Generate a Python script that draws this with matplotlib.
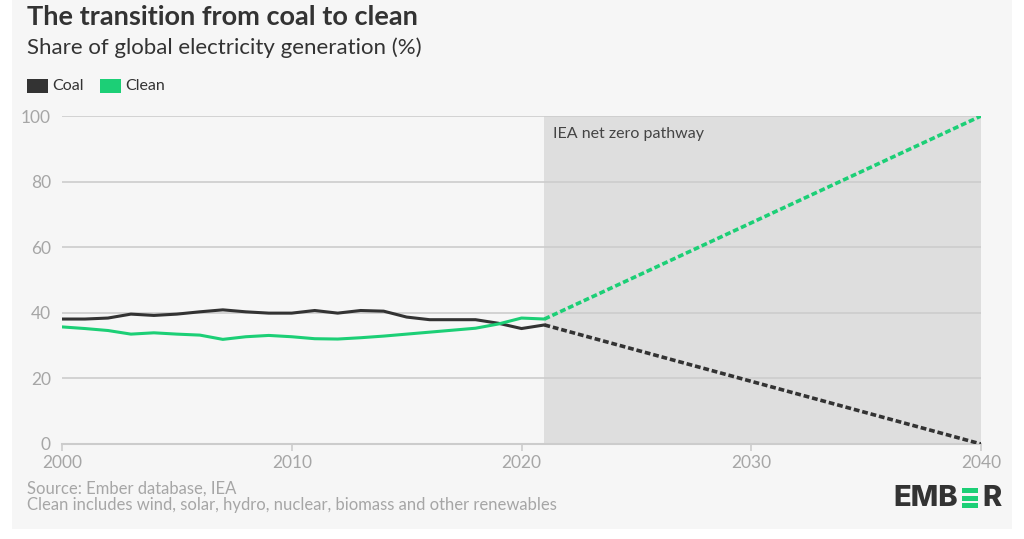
import numpy as np
import matplotlib
matplotlib.use("Agg")
import matplotlib.pyplot as plt
from matplotlib.patches import Rectangle

plt.rcParams['font.family'] = ['Lato', 'DejaVu Sans']

years = list(range(2000, 2022))
coal = [38.1, 38.1, 38.4, 39.6, 39.2, 39.6, 40.3, 40.9, 40.3, 39.9, 39.9,
        40.7, 39.9, 40.7, 40.5, 38.7, 37.9, 37.9, 37.9, 36.8, 35.2, 36.3]
clean = [35.7, 35.2, 34.6, 33.5, 33.9, 33.5, 33.2, 31.9, 32.7, 33.1, 32.7,
         32.1, 32.0, 32.4, 32.9, 33.5, 34.1, 34.7, 35.3, 36.6, 38.4, 38.1]
path_years = [2021, 2040]
coal_path = [36.3, 0]
clean_path = [38.1, 100]
yticks = [0, 20, 40, 60, 80, 100]
xticks = [2000, 2010, 2020, 2030, 2040]

COAL = '#333333'
CLEAN = '#1ccf76'
BG = '#f6f6f6'

W, H = 1024, 539
fig = plt.figure(figsize=(W / 100, H / 100), dpi=100, facecolor='white')
fig.patches.append(Rectangle((12 / W, 1 - 529 / H), 1000 / W, 529 / H,
                             transform=fig.transFigure, facecolor=BG,
                             edgecolor='none', zorder=-10))

ax = fig.add_axes([62 / W, 95 / H, 919 / W, 328 / H])
ax.patch.set_alpha(0)

ax.axvspan(2021, 2040, color='#dedede', zorder=0, lw=0)
for y in yticks[1:]:
    ax.axhline(y, color='#cccccc', lw=1.2, zorder=1)

ax.plot(years, coal, color=COAL, lw=2.2, zorder=3, solid_capstyle='round')
ax.plot(years, clean, color=CLEAN, lw=2.2, zorder=3, solid_capstyle='round')
ax.plot(path_years, coal_path, color=COAL, lw=2.6, dashes=(1.6, 0.8), zorder=3)
ax.plot(path_years, clean_path, color=CLEAN, lw=2.6, dashes=(1.6, 0.8), zorder=3)

ax.set_xlim(2000, 2040)
ax.set_ylim(0, 100)
ax.set_xticks(xticks)
ax.set_yticks(yticks)
for s in ['top', 'right', 'left']:
    ax.spines[s].set_visible(False)
ax.spines['bottom'].set_color('#cccccc')
ax.spines['bottom'].set_linewidth(1.5)
ax.tick_params(axis='x', colors='#cccccc', length=5, width=1.2, labelcolor='#a6a6a6',
               labelsize=12.5, pad=3)
ax.tick_params(axis='y', length=0, labelcolor='#a6a6a6', labelsize=12.5, pad=8)

ax.text(2021.35, 96.5, 'IEA net zero pathway', fontsize=11.5, color='#444444', va='top')

# titles
fig.text(27 / W, 1 - 17 / H, 'The transition from coal to clean', fontsize=19.5,
         fontweight='bold', color='#333333', va='center')
fig.text(27 / W, 1 - 48 / H, 'Share of global electricity generation (%)', fontsize=16,
         color='#333333', va='center')

# legend
for x0, label, c in [(27, 'Coal', COAL), (100, 'Clean', CLEAN)]:
    fig.patches.append(Rectangle((x0 / W, 1 - 93 / H), 21 / W, 14 / H,
                                 transform=fig.transFigure, facecolor=c, edgecolor='none'))
    fig.text((x0 + 25) / W, 1 - 86 / H, label, fontsize=11.5, color='#333333', va='center')

# footer
fig.text(27 / W, 1 - 489 / H, 'Source: Ember database, IEA', fontsize=12,
         color='#a6a6a6', va='center')
fig.text(27 / W, 1 - 505 / H,
         'Clean includes wind, solar, hydro, nuclear, biomass and other renewables',
         fontsize=12, color='#a6a6a6', va='center')

# logo
logo_font = ['Inter', 'DejaVu Sans']
fig.text(958 / W, 1 - 498 / H, 'EMB', fontsize=21, fontweight='heavy', color='#333333',
         va='center', ha='right', family=logo_font)
fig.text(982 / W, 1 - 498 / H, 'R', fontsize=21, fontweight='heavy', color='#333333',
         va='center', ha='left', family=logo_font)
for top in [488, 495.5, 503]:
    fig.patches.append(Rectangle((962 / W, 1 - (top + 5) / H), 16 / W, 5 / H,
                                 transform=fig.transFigure, facecolor=CLEAN, edgecolor='none'))

fig.savefig('out.png', dpi=100, facecolor='white')
